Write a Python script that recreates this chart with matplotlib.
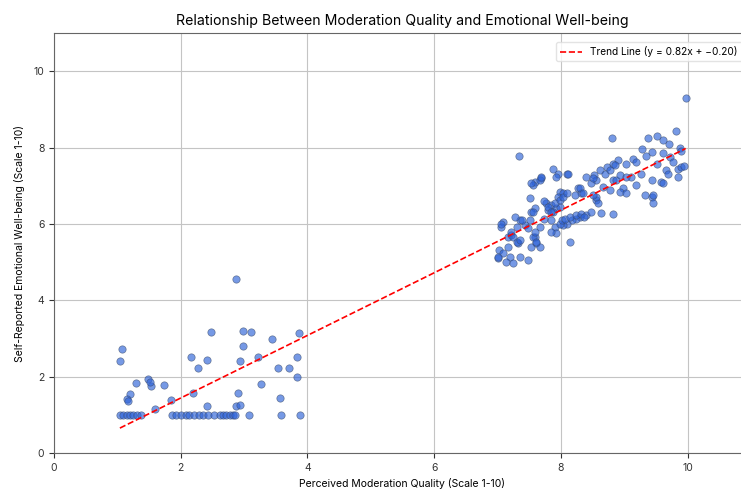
import matplotlib
matplotlib.use("Agg")
import matplotlib.pyplot as plt
import numpy as np

plt.rcParams['font.family'] = ['Inter', 'DejaVu Sans']

# Low-quality cluster
low_x = [2.88, 1.07, 1.04, 2.48, 2.98, 3.11, 2.98, 3.86, 3.44, 2.17, 2.42, 2.27, 2.93, 3.22,
         3.83, 3.54, 3.71, 3.83, 1.29, 1.48, 1.53, 1.51, 1.74, 3.26, 1.20, 1.15, 1.16, 1.85,
         2.20, 2.91, 3.56, 2.42, 2.87, 2.94, 1.59,
         1.04, 1.09, 1.15, 1.20, 1.25, 1.31, 1.37, 1.86, 1.92, 2.00, 2.08, 2.13, 2.21, 2.29,
         2.35, 2.43, 2.53, 2.62, 2.67, 2.72, 2.78, 2.82, 2.85, 3.08, 3.58, 3.89]
low_y = [4.57, 2.72, 2.42, 3.18, 3.20, 3.18, 2.81, 3.15, 2.98, 2.52, 2.43, 2.23, 2.41, 2.52,
         2.52, 2.22, 2.22, 2.00, 1.84, 1.93, 1.75, 1.86, 1.78, 1.80, 1.54, 1.41, 1.36, 1.39,
         1.56, 1.58, 1.45, 1.24, 1.24, 1.25, 1.15,
         1.0, 1.0, 1.0, 1.0, 1.0, 1.0, 1.0, 1.0, 1.0, 1.0, 1.0, 1.0, 1.0, 1.0,
         1.0, 1.0, 1.0, 1.0, 1.0, 1.0, 1.0, 1.0, 1.0, 1.0, 1.0, 1.0]

# High-quality cluster
high_x = [9.97, 8.80, 7.34, 9.82, 9.37, 9.51, 9.61, 9.70, 9.88, 9.90, 9.28, 9.43, 9.35, 9.61,
          9.72, 9.14, 9.19, 9.03, 8.90, 8.82, 8.72, 8.61, 8.53, 8.56, 8.48, 9.51, 9.66, 9.77,
          9.85, 9.90, 9.27, 9.43, 9.58, 9.69, 9.85, 9.95, 9.11, 9.19, 8.98, 8.93, 9.03, 9.32,
          9.43, 9.45, 8.82, 8.87, 8.82, 8.64, 8.56, 8.59, 8.40, 8.48, 8.30, 8.24, 8.14, 8.17,
          8.09, 8.03, 7.88, 7.96, 8.09, 7.93, 7.69, 7.59, 7.56, 7.67, 7.98, 8.03, 7.96, 8.27,
          8.32, 8.22, 7.51, 7.59, 7.53, 7.76, 7.85, 7.93, 7.80, 7.88, 7.98, 7.74, 7.85, 7.90,
          7.93, 7.85, 7.98, 7.67, 7.59, 7.61, 7.67, 7.35, 7.43, 7.48, 7.27, 7.30, 7.22, 7.17,
          7.09, 7.06, 7.03, 7.09, 7.19, 7.14, 7.25, 7.35, 7.48, 7.01, 7.17, 7.33, 7.53, 8.40,
          8.51, 8.69, 8.77, 8.85, 8.56, 8.51, 8.66, 8.77, 8.93, 9.03, 7.06, 7.00, 7.22, 7.25,
          7.30, 7.35, 7.38, 7.51, 7.56, 7.53, 7.69, 7.56, 7.61, 7.59, 7.74, 7.80, 7.85, 7.90,
          7.98, 8.03, 8.09, 8.01, 8.06, 8.14, 8.24, 8.32, 8.37, 8.11, 8.30, 8.35, 9.61, 9.45]
high_y = [9.31, 8.25, 7.77, 8.43, 8.25, 8.30, 8.21, 8.10, 8.00, 7.90, 7.96, 7.89, 7.77, 7.85,
          7.76, 7.71, 7.63, 7.58, 7.67, 7.58, 7.50, 7.41, 7.28, 7.15, 7.06, 7.58, 7.41, 7.63,
          7.45, 7.48, 7.32, 7.15, 7.10, 7.32, 7.24, 7.52, 7.24, 7.02, 6.93, 6.84, 6.80, 6.75,
          6.71, 6.54, 7.16, 7.15, 6.27, 6.29, 6.62, 6.54, 6.23, 6.32, 6.19, 6.14, 5.53, 6.10,
          6.01, 5.97, 7.45, 7.32, 7.32, 7.24, 7.19, 7.10, 7.02, 7.15, 6.84, 6.80, 6.71, 6.93,
          6.80, 6.75, 6.67, 6.41, 6.32, 6.54, 6.49, 6.41, 6.36, 6.32, 6.45, 6.14, 6.10, 5.93,
          5.75, 5.80, 6.01, 5.93, 5.66, 5.49, 5.40, 6.10, 5.97, 5.88, 6.19, 5.93, 5.71, 5.66,
          6.06, 5.93, 5.31, 5.23, 5.14, 5.01, 4.97, 5.14, 5.05, 5.10, 5.40, 5.49, 5.40, 7.24,
          7.19, 7.32, 7.41, 7.54, 6.71, 6.75, 6.97, 6.88, 7.28, 7.24, 6.01, 5.14, 5.80, 5.66,
          5.53, 5.58, 6.10, 6.10, 6.32, 7.06, 7.24, 5.66, 5.53, 5.80, 6.59, 6.45, 6.32, 6.54,
          6.62, 6.71, 6.80, 6.10, 6.14, 6.19, 6.23, 6.27, 6.19, 7.32, 6.93, 6.80, 7.06, 6.75]

slope = 0.82
intercept = -0.20

x_ticks = [0, 2, 4, 6, 8, 10]
y_ticks = [0, 2, 4, 6, 8, 10]

quality = np.array(low_x + high_x)
wellbeing = np.array(low_y + high_y)

fig = plt.figure(figsize=(7.41, 4.92), dpi=100)
ax = fig.add_axes([54/741, 39/492, 697/741, 420/492])

ax.scatter(quality, wellbeing, s=28, color='#2d62d8', alpha=0.65,
           edgecolors='#3a4a6a', linewidths=0.5, zorder=3)

xl = np.array([quality.min(), quality.max()])
ax.plot(xl, slope * xl + intercept, color='red', linestyle='--', linewidth=1.2,
        zorder=4, label=f"Trend Line (y = {slope:.2f}x + \u2212{abs(intercept):.2f})")

ax.set_xlim(0, 11)
ax.set_ylim(0, 11)
ax.set_xticks(x_ticks)
ax.set_yticks(y_ticks)
ax.tick_params(labelsize=7.5, colors='#333333')
ax.grid(True, color='#c4c4c4', linewidth=0.8, zorder=0)
for sp in ax.spines.values():
    sp.set_color('#666666')

ax.set_title("Relationship Between Moderation Quality and Emotional Well-being",
             fontsize=10.2, pad=6)
ax.set_xlabel("Perceived Moderation Quality (Scale 1-10)", fontsize=7.5, labelpad=4)
ax.set_ylabel("Self-Reported Emotional Well-being (Scale 1-10)", fontsize=7.5, labelpad=6)

ax.legend(loc='upper right', fontsize=7.3, frameon=True, framealpha=0.8,
          edgecolor='#dddddd', borderaxespad=0.9, handlelength=2.2)

fig.savefig("out.png", dpi=100)
